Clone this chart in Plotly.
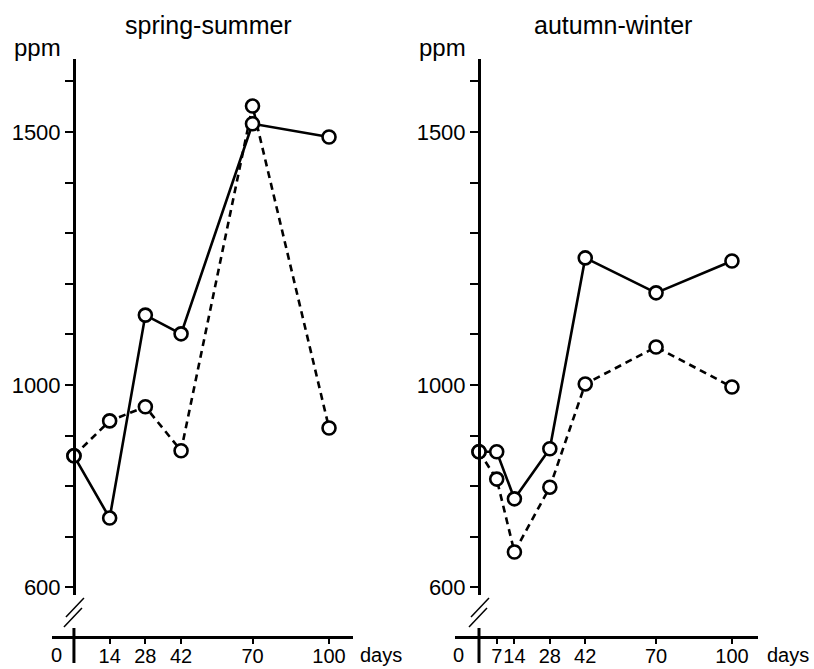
import plotly.graph_objects as go

W, H = 814, 669

# ---- data ----
ss_days = [0, 14, 28, 42, 70, 100]
ss_solid = [860, 737, 1138, 1101, 1516, 1490]
ss_dashed = [860, 929, 957, 870, 1551, 915]

aw_days = [0, 7, 14, 28, 42, 70, 100]
aw_solid = [868, 868, 775, 874, 1251, 1182, 1245]
aw_dashed = [868, 814, 670, 798, 1002, 1075, 996]

ss_xticks = [14, 28, 42, 70, 100]
aw_xticks = [7, 14, 28, 42, 70, 100]
y_tickvals = [600, 700, 800, 900, 1000, 1100, 1200, 1300, 1400, 1500, 1600]
y_ticktext = ["600", "", "", "", "1000", "", "", "", "", "1500", ""]

FONT = "Liberation Sans"
XTICKF = 20
LW = 2.6
MSIZE = 13

fig = go.Figure()


def add_panel(days, solid, dashed, xa, ya):
    fig.add_trace(go.Scatter(x=days, y=dashed, mode="lines", xaxis=xa, yaxis=ya,
                             line=dict(color="black", width=LW, dash="7px,5px"),
                             showlegend=False, hoverinfo="skip"))
    fig.add_trace(go.Scatter(x=days, y=solid, mode="lines", xaxis=xa, yaxis=ya,
                             line=dict(color="black", width=LW),
                             showlegend=False, hoverinfo="skip"))
    for ser in (dashed, solid):
        fig.add_trace(go.Scatter(x=days, y=ser, mode="markers", xaxis=xa, yaxis=ya,
                                 marker=dict(symbol="circle", size=MSIZE, color="white",
                                             line=dict(color="black", width=2.6)),
                                 showlegend=False, cliponaxis=False, hoverinfo="skip"))


add_panel(ss_days, ss_solid, ss_dashed, "x", "y")
add_panel(aw_days, aw_solid, aw_dashed, "x2", "y2")

ydom = [(H - 595) / H, (H - 59) / H]
xpos = (H - 637) / H

common_x = dict(showgrid=False, zeroline=False, showline=True, linecolor="black",
                linewidth=3, ticks="outside", ticklen=5, tickwidth=1.5, tickcolor="black",
                tickangle=0, automargin=False, ticklabelstandoff=-5,
                tickfont=dict(family=FONT, size=XTICKF, color="black"),
                anchor="free", position=xpos, fixedrange=True)
common_y = dict(showgrid=False, zeroline=False, showline=True, linecolor="black",
                linewidth=3, ticks="outside", ticklen=8, tickwidth=1.5, tickcolor="black",
                automargin=False,
                tickfont=dict(family=FONT, size=22, color="black"),
                anchor="free", domain=ydom, range=[585, 1644],
                tickvals=y_tickvals, ticktext=y_ticktext, fixedrange=True)

fig.update_layout(
    width=W, height=H, autosize=False,
    margin=dict(l=0, r=0, t=0, b=0, pad=0),
    paper_bgcolor="white", plot_bgcolor="white",
    xaxis=dict(common_x, domain=[52 / W, 353 / W], range=[-8.6, 109.4],
               tickvals=ss_xticks, ticktext=[str(v) for v in ss_xticks]),
    yaxis=dict(common_y, position=74 / W),
    xaxis2=dict(common_x, domain=[455 / W, 758 / W], range=[-9.49, 110.3],
                tickvals=aw_xticks, ticktext=[str(v) for v in aw_xticks]),
    yaxis2=dict(common_y, position=479 / W),
)

# y-axis stub below the broken region and break marks
shapes = []
for xr in ("x", "x2"):
    shapes.append(dict(type="line", xref=xr, yref="paper", x0=0, x1=0,
                       y0=(H - 663) / H, y1=(H - 628) / H,
                       line=dict(color="black", width=3)))
    for (dx0, py0, dx1, py1) in [(-8, 617, 10, 598), (-10, 627, 8, 608)]:
        shapes.append(dict(type="line", xref=xr, yref="paper", xsizemode="pixel", xanchor=0,
                           x0=dx0, x1=dx1, y0=(H - py0) / H, y1=(H - py1) / H,
                           line=dict(color="black", width=1.5)))
fig.update_layout(shapes=shapes)

ann = []
TF = dict(family=FONT, size=25, color="black")
PF = dict(family=FONT, size=24, color="black")
ann.append(dict(text="spring-summer", xref="paper", yref="paper", x=208 / W, y=(H - 25) / H,
                showarrow=False, font=TF, xanchor="center", yanchor="middle"))
ann.append(dict(text="autumn-winter", xref="paper", yref="paper", x=613 / W, y=(H - 25) / H,
                showarrow=False, font=TF, xanchor="center", yanchor="middle"))
for cx in (37, 442):
    ann.append(dict(text="ppm", xref="paper", yref="paper", x=cx / W, y=(H - 48) / H,
                    showarrow=False, font=PF, xanchor="center", yanchor="middle"))
for xr, sh in (("x", -17), ("x2", -21)):
    ann.append(dict(text="0", xref=xr, yref="paper", x=0, xshift=sh, y=(H - 668) / H,
                    showarrow=False, font=dict(family=FONT, size=XTICKF, color="black"),
                    xanchor="center", yanchor="bottom"))
for lx in (358, 765):
    ann.append(dict(text="days", xref="paper", yref="paper", x=lx / W, y=(H - 668) / H,
                    showarrow=False, font=dict(family=FONT, size=XTICKF, color="black"),
                    xanchor="left", yanchor="bottom"))
fig.update_layout(annotations=ann)

fig.write_html("out.html", config={"displayModeBar": False},
               post_script="document.body.style.margin='0';document.body.style.padding='0';")
